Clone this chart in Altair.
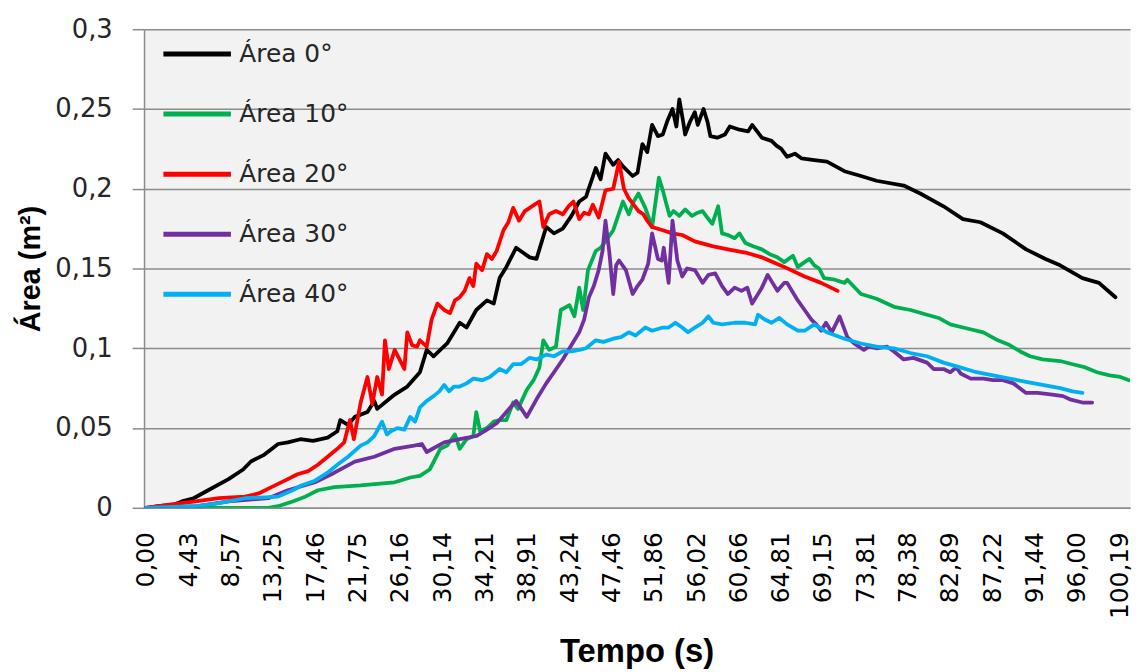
import json
import altair as alt
import pandas as pd

series_names = ["Área 0°", "Área 10°", "Área 20°", "Área 30°", "Área 40°"]
series_colors = ["#000000", "#00B050", "#FF0000", "#7030A0", "#00B0F0"]

x_labels = ["0,00", "4,43", "8,57", "13,25", "17,46", "21,75", "26,16", "30,14",
            "34,21", "38,91", "43,24", "47,46", "51,86", "56,02", "60,66", "64,81",
            "69,15", "73,81", "78,38", "82,89", "87,22", "91,44", "96,00", "100,19"]
y_ticks = [0, 0.05, 0.1, 0.15, 0.2, 0.25, 0.3]

t_0 = [0, 1.3, 2.9, 3.7, 4.9, 6.4, 8.5, 10.0, 10.8, 12.1, 13.6, 14.6, 15.9, 17.2, 18.7, 19.7, 20.0, 20.8, 21.5, 22.8,
       23.5, 23.8, 25.6, 26.9, 28.2, 28.9, 29.6, 31.0, 32.3, 33.0, 34.0, 35.1, 35.8, 36.4, 37.1, 38.1, 39.5, 40.2, 41.2, 42.0,
       42.9, 43.8, 44.6, 45.3, 46.3, 46.8, 47.3, 48.1, 48.6, 49.1, 50.1, 50.6, 51.1, 51.6, 52.1, 52.7, 53.2, 53.7, 54.2, 54.6,
       54.9, 55.3, 55.5, 56.0, 56.5, 56.8, 57.4, 57.8, 58.1, 58.8, 59.6, 60.1, 61.1, 62.0, 62.4, 63.4, 64.4, 64.9, 65.4, 66.0,
       66.8, 67.5, 68.8, 70.1, 71.9, 73.6, 75.2, 78.0, 79.7, 82.1, 84.1, 85.9, 88.2, 90.6, 92.6, 94.1, 96.4, 98.1, 99.8]
a_0 = [0.000, 0.001, 0.002, 0.004, 0.006, 0.011, 0.018, 0.024, 0.029, 0.033, 0.040, 0.041, 0.043, 0.042, 0.044, 0.048, 0.055, 0.052, 0.057, 0.060,
       0.067, 0.062, 0.071, 0.076, 0.085, 0.099, 0.095, 0.103, 0.116, 0.113, 0.124, 0.130, 0.128, 0.144, 0.151, 0.163, 0.157, 0.156, 0.176, 0.172,
       0.175, 0.183, 0.192, 0.195, 0.213, 0.206, 0.222, 0.215, 0.218, 0.214, 0.208, 0.210, 0.228, 0.223, 0.240, 0.233, 0.234, 0.243, 0.250, 0.239,
       0.256, 0.242, 0.234, 0.242, 0.248, 0.240, 0.250, 0.242, 0.233, 0.232, 0.234, 0.239, 0.237, 0.236, 0.240, 0.232, 0.230, 0.227, 0.225, 0.220,
       0.222, 0.219, 0.218, 0.217, 0.211, 0.208, 0.205, 0.202, 0.197, 0.189, 0.181, 0.179, 0.172, 0.162, 0.156, 0.152, 0.144, 0.141, 0.132]

t_10 = [0, 5.4, 12.6, 13.6, 15.1, 16.4, 17.7, 19.4, 22.1, 23.8, 25.6, 27.2, 28.2, 29.2, 30.3, 31.0, 31.8, 32.3, 33.0, 33.7,
        34.0, 34.4, 35.1, 35.8, 36.4, 37.1, 37.8, 38.3, 39.2, 39.9, 40.5, 40.9, 41.5, 42.2, 42.7, 43.6, 44.1, 44.6, 45.0, 45.5,
        46.3, 46.8, 47.3, 48.1, 48.6, 49.1, 49.7, 50.2, 50.7, 51.4, 52.1, 52.8, 53.2, 53.5, 53.9, 54.3, 54.9, 55.5, 56.2, 56.8,
        57.3, 57.9, 58.3, 58.9, 59.3, 59.9, 60.6, 61.1, 61.7, 62.5, 63.4, 64.2, 65.0, 65.7, 66.6, 67.1, 67.8, 68.3, 68.8, 69.3,
        69.8, 70.9, 71.9, 72.2, 73.6, 75.2, 77.0, 78.7, 80.4, 81.6, 82.8, 84.1, 86.2, 87.7, 88.9, 90.0, 91.0, 92.3, 94.1, 95.4,
        96.7, 97.9, 99.2, 100.3, 101.2]
a_10 = [0, 0, 0, 0.001, 0.004, 0.007, 0.011, 0.013, 0.014, 0.015, 0.016, 0.019, 0.020, 0.024, 0.037, 0.039, 0.046, 0.037, 0.043, 0.045,
        0.060, 0.048, 0.050, 0.054, 0.055, 0.055, 0.066, 0.062, 0.074, 0.080, 0.088, 0.105, 0.099, 0.101, 0.124, 0.127, 0.120, 0.138, 0.124, 0.149,
        0.161, 0.163, 0.167, 0.174, 0.183, 0.192, 0.184, 0.192, 0.197, 0.188, 0.176, 0.207, 0.199, 0.192, 0.183, 0.186, 0.183, 0.187, 0.183, 0.185,
        0.186, 0.181, 0.178, 0.189, 0.172, 0.171, 0.169, 0.172, 0.166, 0.164, 0.162, 0.159, 0.157, 0.154, 0.158, 0.151, 0.154, 0.156, 0.152, 0.150,
        0.144, 0.143, 0.141, 0.143, 0.134, 0.131, 0.126, 0.124, 0.121, 0.119, 0.115, 0.113, 0.110, 0.105, 0.102, 0.098, 0.095, 0.093, 0.092, 0.090,
        0.088, 0.085, 0.083, 0.082, 0.080]

t_20 = [0, 2.4, 5.1, 7.5, 10.2, 11.6, 12.6, 13.6, 14.6, 15.6, 16.7, 17.7, 18.7, 19.7, 20.4, 21.0, 21.4, 22.1, 22.8, 23.3,
        23.8, 24.3, 24.6, 25.0, 25.6, 26.1, 26.6, 26.9, 27.4, 27.9, 28.2, 28.9, 29.4, 30.0, 30.7, 31.3, 31.8, 32.3, 32.8, 33.3,
        33.7, 34.0, 34.6, 35.1, 35.6, 36.1, 36.8, 37.3, 37.8, 38.4, 39.0, 39.5, 40.0, 40.5, 40.9, 41.5, 42.2, 42.9, 43.5, 44.0,
        44.6, 45.1, 45.6, 46.0, 46.6, 47.3, 48.1, 48.7, 49.2, 49.7, 50.2, 50.7, 51.2, 51.6, 52.1, 53.2, 54.2, 55.2, 56.5, 58.3,
        59.9, 61.7, 63.4, 65.7, 67.8, 69.5, 71.2]
a_20 = [0, 0.002, 0.004, 0.006, 0.007, 0.009, 0.012, 0.015, 0.018, 0.021, 0.023, 0.027, 0.032, 0.037, 0.041, 0.055, 0.043, 0.066, 0.082, 0.065,
        0.082, 0.071, 0.105, 0.087, 0.099, 0.093, 0.087, 0.110, 0.102, 0.101, 0.105, 0.101, 0.118, 0.128, 0.124, 0.122, 0.130, 0.132, 0.136, 0.144,
        0.139, 0.153, 0.149, 0.159, 0.156, 0.161, 0.174, 0.179, 0.188, 0.180, 0.186, 0.188, 0.190, 0.192, 0.176, 0.184, 0.186, 0.184, 0.189, 0.192,
        0.181, 0.185, 0.184, 0.190, 0.182, 0.199, 0.200, 0.217, 0.200, 0.194, 0.190, 0.186, 0.184, 0.180, 0.176, 0.174, 0.172, 0.171, 0.167, 0.164,
        0.162, 0.160, 0.157, 0.151, 0.145, 0.141, 0.136]

t_30 = [0, 5.4, 8.5, 12.6, 14.6, 17.4, 19.4, 21.5, 23.5, 25.6, 27.6, 28.4, 28.9, 30.7, 32.3, 34.0, 35.1, 36.1, 37.1, 38.1,
        39.2, 40.2, 41.2, 42.0, 42.9, 43.8, 44.6, 45.1, 45.6, 46.1, 46.6, 47.0, 47.3, 47.7, 48.1, 48.4, 48.7, 49.4, 50.1, 50.6,
        51.1, 51.7, 52.1, 52.7, 53.1, 53.3, 53.8, 54.2, 54.7, 55.2, 55.7, 56.5, 57.3, 57.9, 58.6, 59.3, 59.9, 60.6, 61.3, 61.9,
        62.4, 62.9, 63.4, 64.0, 64.5, 65.0, 65.7, 66.0, 66.6, 67.1, 67.8, 68.5, 69.0, 69.5, 70.0, 70.6, 71.4, 72.2, 72.9, 73.9,
        74.4, 75.2, 76.3, 77.0, 78.0, 79.0, 80.4, 81.1, 82.1, 82.8, 83.4, 83.9, 84.9, 86.2, 87.2, 88.2, 89.3, 90.6, 91.8, 93.3,
        94.4, 95.1, 96.4, 97.4]
a_30 = [0, 0.001, 0.004, 0.006, 0.011, 0.016, 0.022, 0.029, 0.032, 0.037, 0.039, 0.040, 0.035, 0.041, 0.043, 0.045, 0.049, 0.053, 0.060, 0.067,
        0.057, 0.068, 0.078, 0.085, 0.093, 0.102, 0.110, 0.118, 0.132, 0.139, 0.149, 0.161, 0.180, 0.160, 0.134, 0.152, 0.155, 0.149, 0.134, 0.139,
        0.143, 0.153, 0.172, 0.156, 0.155, 0.163, 0.141, 0.180, 0.155, 0.145, 0.150, 0.149, 0.141, 0.146, 0.147, 0.139, 0.134, 0.138, 0.136, 0.138,
        0.128, 0.133, 0.138, 0.146, 0.141, 0.136, 0.141, 0.141, 0.135, 0.130, 0.124, 0.118, 0.115, 0.111, 0.116, 0.110, 0.120, 0.107, 0.103, 0.099,
        0.101, 0.100, 0.101, 0.098, 0.093, 0.094, 0.091, 0.087, 0.087, 0.085, 0.088, 0.084, 0.081, 0.081, 0.080, 0.080, 0.078, 0.072, 0.072, 0.071,
        0.070, 0.068, 0.066, 0.066]

t_40 = [0, 5.1, 7.5, 10.2, 13.6, 15.1, 16.0, 17.4, 18.7, 19.7, 20.8, 22.1, 22.8, 23.5, 24.3, 24.8, 25.2, 25.9, 26.6, 27.2,
        27.7, 28.2, 28.9, 29.6, 30.2, 30.7, 31.2, 31.7, 32.3, 33.0, 33.7, 34.6, 35.4, 36.4, 37.1, 37.8, 38.6, 39.5, 40.2, 41.2,
        42.0, 42.9, 43.8, 44.6, 45.3, 46.3, 47.1, 48.1, 48.9, 49.7, 50.4, 51.4, 52.1, 53.2, 53.8, 54.5, 55.2, 55.8, 56.5, 57.3,
        57.9, 58.4, 59.3, 60.6, 61.7, 62.7, 63.0, 63.7, 64.4, 65.2, 66.0, 67.1, 67.8, 68.8, 70.1, 71.9, 73.6, 75.2, 77.0, 78.7,
        80.4, 82.1, 83.8, 85.5, 87.2, 88.9, 90.6, 92.3, 94.1, 95.4, 96.4]
a_40 = [0, 0.001, 0.003, 0.006, 0.007, 0.011, 0.014, 0.017, 0.022, 0.027, 0.032, 0.039, 0.041, 0.045, 0.054, 0.046, 0.048, 0.050, 0.049, 0.057,
        0.054, 0.063, 0.067, 0.070, 0.073, 0.077, 0.073, 0.076, 0.076, 0.078, 0.081, 0.080, 0.082, 0.087, 0.085, 0.090, 0.090, 0.094, 0.093, 0.096,
        0.095, 0.098, 0.098, 0.099, 0.100, 0.105, 0.104, 0.106, 0.107, 0.110, 0.108, 0.113, 0.111, 0.113, 0.113, 0.116, 0.113, 0.110, 0.113, 0.116,
        0.120, 0.116, 0.115, 0.116, 0.116, 0.115, 0.121, 0.118, 0.116, 0.119, 0.115, 0.111, 0.111, 0.115, 0.110, 0.106, 0.103, 0.101, 0.100, 0.097,
        0.095, 0.091, 0.088, 0.085, 0.083, 0.081, 0.079, 0.077, 0.075, 0.073, 0.072]

times = [t_0, t_10, t_20, t_30, t_40]
areas = [a_0, a_10, a_20, a_30, a_40]

rows = []
for name, ts, vs in zip(series_names, times, areas):
    assert len(ts) == len(vs), name
    for i, (t, v) in enumerate(zip(ts, vs)):
        rows.append({"serie": name, "tempo": t, "area": v, "ordem": i})
df = pd.DataFrame(rows)

step = 100.19 / 23
x_tick_vals = [i * step for i in range(len(x_labels))]
x_label_expr = json.dumps(x_labels) + "[round(datum.value / " + repr(step) + ")]"

GRID = "#8c8c8c"

chart = alt.Chart(df).mark_line(strokeWidth=3.8, strokeJoin="round", strokeCap="round", clip=True).encode(
    x=alt.X("tempo:Q",
            scale=alt.Scale(domain=[-0.2, 101.3], nice=False, zero=False),
            axis=alt.Axis(values=x_tick_vals, labelExpr=x_label_expr, labelAngle=270,
                          ticks=False, tickSize=0, grid=False,
                          domainColor=GRID, domainWidth=1.5,
                          labelFont="DejaVu Sans", labelFontSize=25, labelColor="#000000",
                          labelPadding=24, labelOverlap=False, labelFlush=False,
                          title="Tempo (s)", titleFont="Liberation Sans", titleFontSize=33,
                          titleFontWeight="bold", titleColor="#000000",
                          titleX=496, titleY=155, titleAlign="center", titleBaseline="alphabetic")),
    y=alt.Y("area:Q",
            scale=alt.Scale(domain=[0, 0.3], nice=False, zero=True),
            axis=alt.Axis(values=y_ticks, labelExpr="replace(format(datum.value, '~g'), '.', ',')",
                          grid=True, gridColor=GRID, gridWidth=1.5,
                          domainColor=GRID, domainWidth=1.5,
                          tickColor=GRID, tickSize=12, tickWidth=1.5,
                          labelFont="DejaVu Sans", labelFontSize=26, labelColor="#262626",
                          labelPadding=20,
                          title="Área (m²)", titleFont="Liberation Sans", titleFontSize=29,
                          titleFontWeight="bold", titleColor="#000000",
                          titleX=-114, titleY=241, titleAngle=270,
                          titleAlign="center", titleBaseline="middle")),
    color=alt.Color("serie:N",
                    scale=alt.Scale(domain=series_names, range=series_colors),
                    legend=alt.Legend(orient="none", legendX=17, legendY=-5, title=None,
                                      symbolType="stroke", symbolSize=4624, symbolStrokeWidth=5,
                                      clipHeight=60, rowPadding=0.5, padding=0, symbolOffset=0,
                                      labelFont="DejaVu Sans", labelFontSize=25, labelColor="#262626",
                                      labelOffset=6, labelLimit=0)),
    order=alt.Order("ordem:Q"),
).properties(
    width=993,
    height=482,
    padding={"left": 137, "top": 19, "right": 5, "bottom": 163},
    autosize=alt.AutoSizeParams(type="none"),
    background="#ffffff",
).configure_view(fill="#F2F2F2", stroke="transparent")

chart.save("out.html", embed_options={"renderer": "svg", "actions": False})
